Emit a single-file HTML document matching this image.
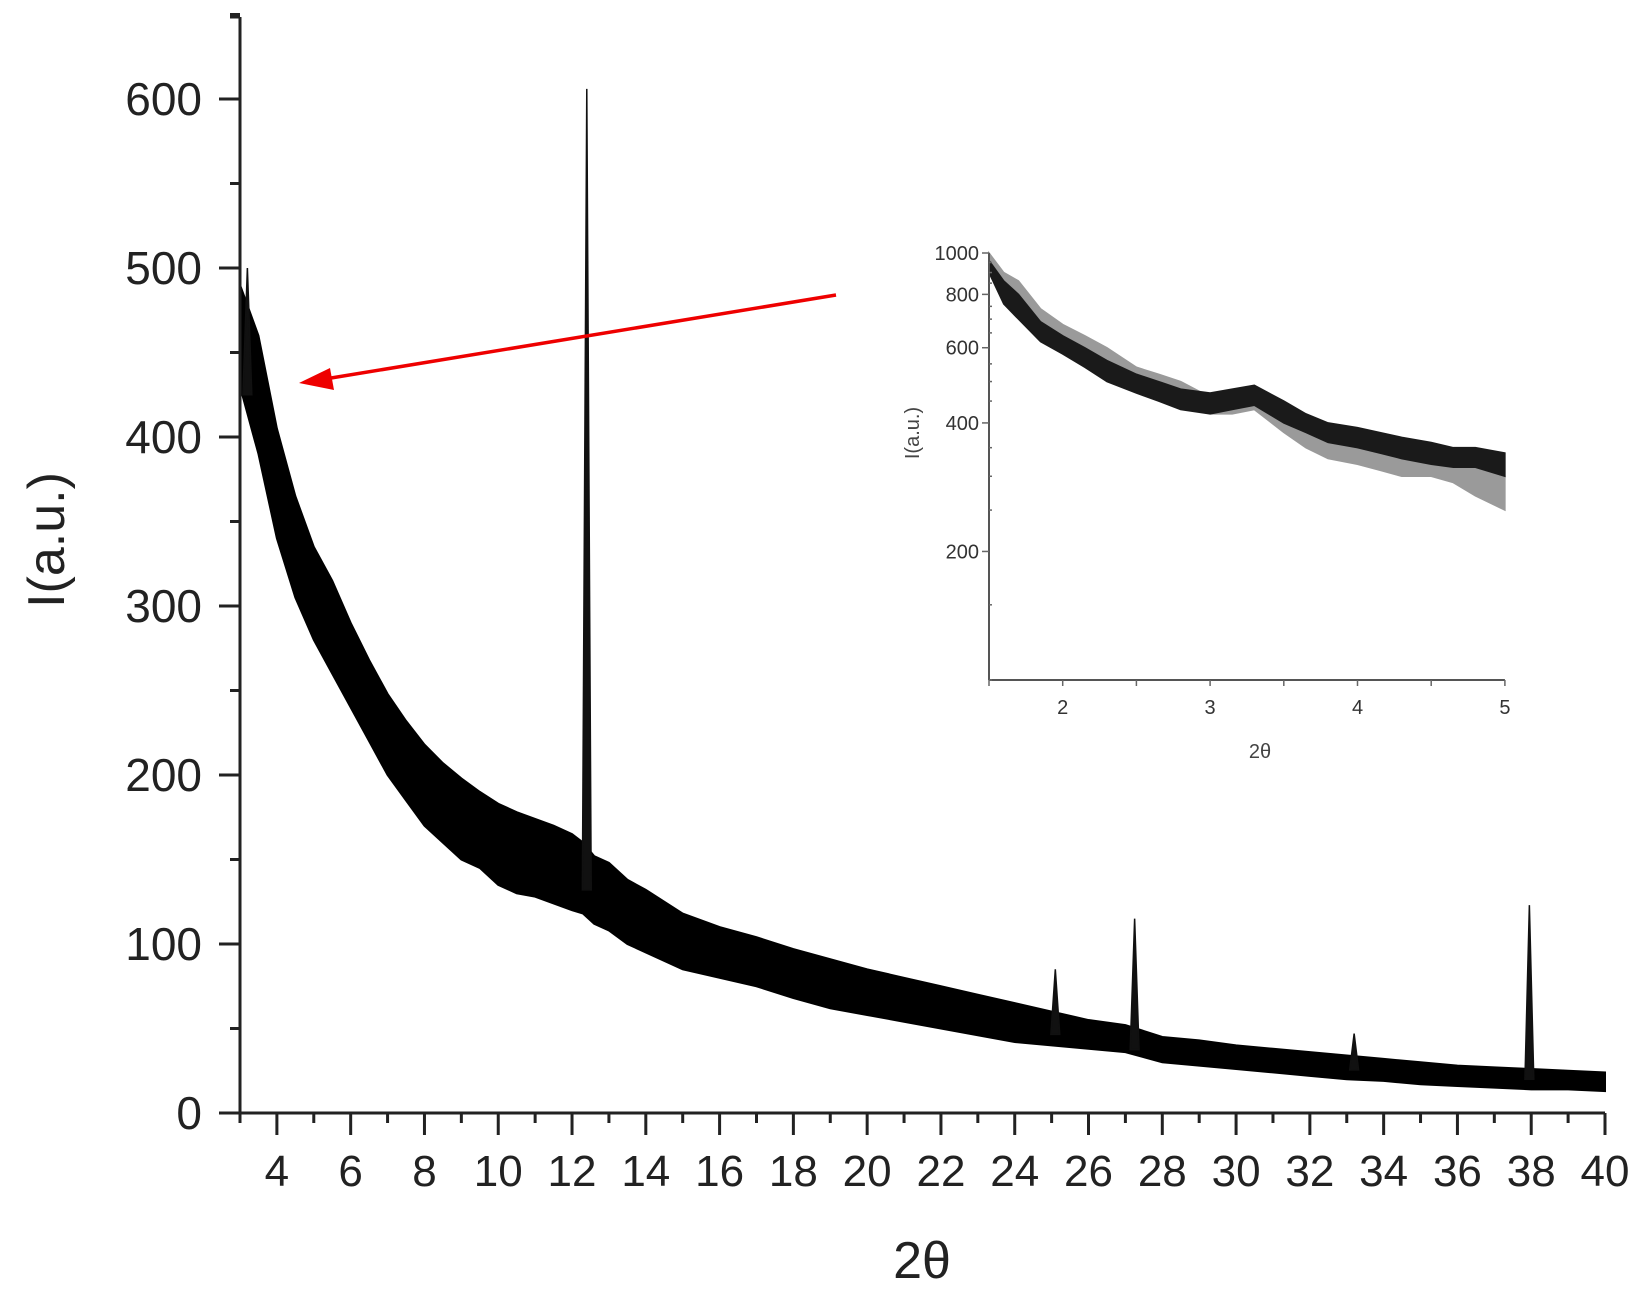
<!DOCTYPE html>
<html><head><meta charset="utf-8"><style>
html,body{margin:0;padding:0;background:#fff;}
svg{display:block;font-family:"Liberation Sans",sans-serif;}
</style></head><body>
<svg id="chart" width="1646" height="1298" viewBox="0 0 1646 1298">
<g id="main"></g>
<g id="inset"></g>
</svg>
<script>
// main chart data (2θ, intensity envelope)
const mainX  = [3,3.5,4,4.5,5,5.5,6,6.5,7,7.5,8,8.5,9,9.5,10,10.5,11,11.5,12,12.3,12.6,13,13.5,14,15,16,17,18,19,20,21,22,23,24,25,26,27,28,29,30,31,32,33,34,35,36,37,38,39,40];
const mainHi = [490,460,405,365,335,315,290,268,248,232,218,207,198,190,183,178,174,170,165,160,152,148,138,132,118,110,104,97,91,85,80,75,70,65,60,55,52,45,43,40,38,36,34,32,30,28,27,26,25,24];
const mainLo = [430,390,340,305,280,260,240,220,200,185,170,160,150,145,135,130,128,124,120,118,112,108,100,95,85,80,75,68,62,58,54,50,46,42,40,38,36,30,28,26,24,22,20,19,17,16,15,14,14,13];
const peakX  = [3.2,12.4,25.1,27.25,33.2,37.95];
const peakY  = [500,606,85,115,47,123];
const xTicks = [4,6,8,10,12,14,16,18,20,22,24,26,28,30,32,34,36,38,40];
const yTicks = [0,100,200,300,400,500,600];
// inset data (log scale)
const insX   = [1.5,1.6,1.7,1.85,2,2.15,2.3,2.5,2.65,2.8,3,3.15,3.3,3.5,3.65,3.8,4,4.15,4.3,4.5,4.65,4.8,5];
const insBHi = [960,860,800,690,640,600,560,520,500,480,470,480,490,450,420,400,390,380,370,360,350,350,340];
const insBLo = [900,760,700,620,580,540,500,470,450,430,420,430,440,400,380,360,350,340,330,320,315,315,300];
const insGHi = [1000,900,860,740,680,640,600,540,520,500,460,470,480,430,400,380,360,350,345,340,330,320,300];
const insGLo = [950,820,760,660,620,580,540,490,470,450,420,420,430,380,350,330,320,310,300,300,290,270,250];
const insXTicks = [2,3,4,5];
const insYTicks = [200,400,600,800,1000];

const NS="http://www.w3.org/2000/svg";
function mk(parent,tag,attrs,text){const e=document.createElementNS(NS,tag);for(const k in attrs)e.setAttribute(k,attrs[k]);if(text!==undefined)e.textContent=text;parent.appendChild(e);return e;}

const X0=240,X1=1605,Y0=1113,YT=17;
const X=v=>X0+(v-3)*(X1-X0)/37;
const Y=v=>Y0-v*1.69;
const gm=document.getElementById('main');

let pts=mainX.map((x,i)=>X(x)+','+Y(mainHi[i]));
for(let i=mainX.length-1;i>=0;i--)pts.push(X(mainX[i])+','+Y(mainLo[i]));
const band=mk(gm,'polygon',{points:pts.join(' '),fill:'#000',stroke:'#000','stroke-width':2});


peakX.forEach((px,i)=>{
  let j=mainX.findIndex(x=>x>=px);if(j<0)j=mainX.length-1;
  const base=(mainHi[j]+mainLo[j])/2;
  const p=mk(gm,'polygon',{points:`${X(px-0.12)},${Y(base)} ${X(px)},${Y(peakY[i])} ${X(px+0.12)},${Y(base)}`,fill:'#111',stroke:'#111','stroke-width':1.5});
  
  
});

const ax=mk(gm,'line',{x1:X0,y1:YT,x2:X0,y2:Y0,stroke:'#222','stroke-width':3});

const axx=mk(gm,'line',{x1:X0-20,y1:Y0,x2:X1,y2:Y0,stroke:'#222','stroke-width':3});

mk(gm,'line',{x1:X0-10,y1:YT,x2:X0,y2:YT,stroke:'#222','stroke-width':3});
for(let v=0;v<=650;v+=50){const maj=v%100===0;mk(gm,'line',{x1:X0-(maj?21:10),y1:Y(v),x2:X0,y2:Y(v),stroke:'#222','stroke-width':3});}
for(let v=3;v<=40;v++){const maj=v%2===0;mk(gm,'line',{x1:X(v),y1:Y0,x2:X(v),y2:Y0+(maj?22:10),stroke:'#222','stroke-width':3});}
yTicks.forEach(v=>{const t=mk(gm,'text',{x:202,y:Y(v)+16,'text-anchor':'end','font-size':46,fill:'#222'},v);
  });
xTicks.forEach(v=>{const t=mk(gm,'text',{x:X(v),y:1186,'text-anchor':'middle','font-size':44,fill:'#222'},v);
  });
const yt=mk(gm,'text',{x:0,y:0,transform:'translate(64,540) rotate(-90)','text-anchor':'middle','font-size':52,fill:'#222'},'I(a.u.)');

const xt=mk(gm,'text',{x:922,y:1278,'text-anchor':'middle','font-size':52,fill:'#222'},'2θ');


const ar=mk(gm,'line',{x1:836,y1:295,x2:325,y2:379,stroke:'#e00','stroke-width':3.5});

const ah=mk(gm,'polygon',{points:'299,383 330,368 334,390',fill:'#e00'});


const gi=document.getElementById('inset');
const IB=680;
const IX=v=>989+(v-1.5)*147.4;
const IY=v=>IB-(Math.log10(v)-2)*427;
function bandI(hi,lo,col,name){
  let p=insX.map((x,i)=>IX(x)+','+IY(hi[i]));
  for(let i=insX.length-1;i>=0;i--)p.push(IX(insX[i])+','+IY(lo[i]));
  const e=mk(gi,'polygon',{points:p.join(' '),fill:col,stroke:col,'stroke-width':1.5});
  
}
bandI(insGHi,insGLo,'#9a9a9a','inset-series-gray');
bandI(insBHi,insBLo,'#1a1a1a','inset-series-black');
const iax=mk(gi,'line',{x1:IX(1.5),y1:IY(1000),x2:IX(1.5),y2:IB,stroke:'#555','stroke-width':2});

const iaxx=mk(gi,'line',{x1:IX(1.5),y1:IB,x2:IX(5),y2:IB,stroke:'#555','stroke-width':2});

for(let v=100;v<=1000;v+=50){const maj=[200,400,600,800,1000].includes(v);mk(gi,'line',{x1:IX(1.5)-(maj?7:0),y1:IY(v),x2:IX(1.5)+(maj?0:3),y2:IY(v),stroke:'#666','stroke-width':1.5});}
for(let v=1.5;v<=5;v+=0.5){mk(gi,'line',{x1:IX(v),y1:IB,x2:IX(v),y2:IB+6,stroke:'#666','stroke-width':1.5});}
insYTicks.forEach(v=>{const t=mk(gi,'text',{x:IX(1.5)-10,y:IY(v)+7,'text-anchor':'end','font-size':20,fill:'#333'},v);
  });
insXTicks.forEach(v=>{const t=mk(gi,'text',{x:IX(v),y:714,'text-anchor':'middle','font-size':20,fill:'#333'},v);
  });
const iyt=mk(gi,'text',{x:0,y:0,transform:'translate(919,433) rotate(-90)','text-anchor':'middle','font-size':20,fill:'#444'},'I(a.u.)');

const ixt=mk(gi,'text',{x:1260,y:758,'text-anchor':'middle','font-size':20,fill:'#444'},'2θ');

</script>
</body></html>
